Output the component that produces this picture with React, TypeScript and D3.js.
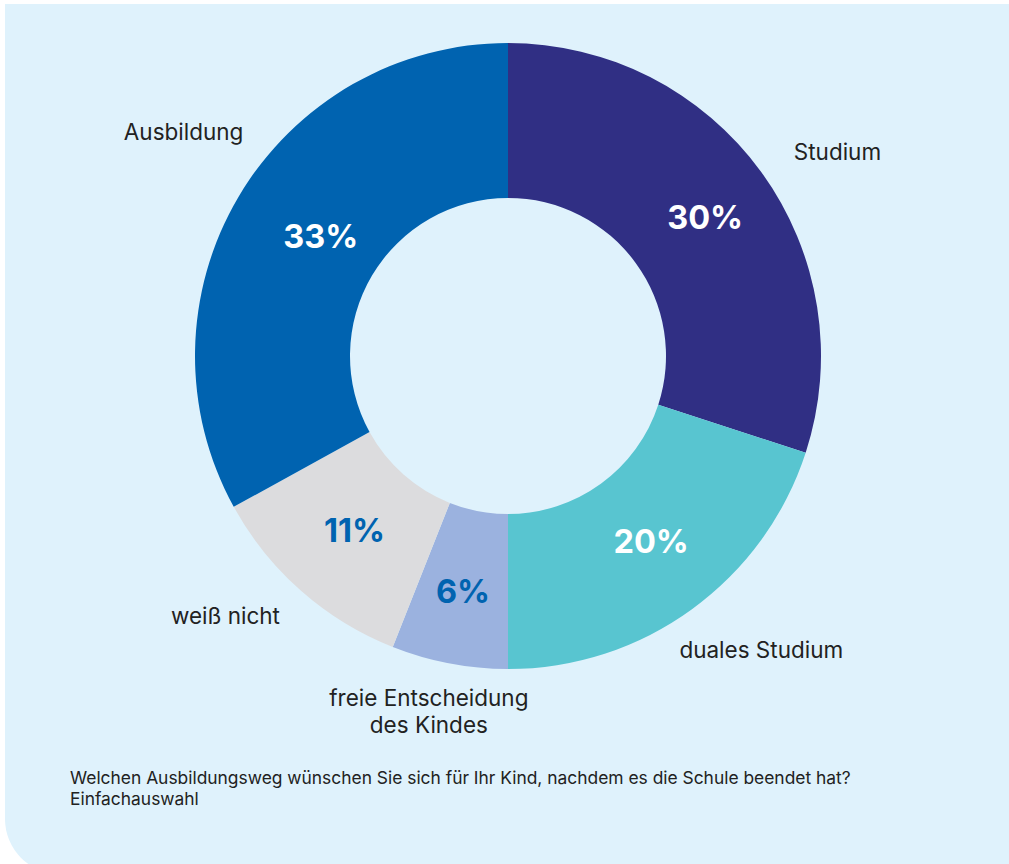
import * as d3 from "d3"

// slices, clockwise from 12 o'clock
const categories = ["Studium", "duales Studium", "freie Entscheidung\ndes Kindes", "weiß nicht", "Ausbildung"]
const values = [30, 20, 6, 11, 33]
const valueLabels = ["30%", "20%", "6%", "11%", "33%"]
const colors = ["#302f84", "#58c5d0", "#9bb2df", "#dcdcde", "#0063b0"]
const valueColors = ["#ffffff", "#ffffff", "#0063b0", "#0063b0", "#ffffff"]
// small hand nudges (px) for labels that are not on the centroid
const valueNudge = [[7, 0], [5, -5], [-1, 5], [2, -2], [15, 0]]
const nameNudge = [[18, 21], [27, -18], [-7, -24], [-28, -30], [7, -29]]

const question = "Welchen Ausbildungsweg wünschen Sie sich für Ihr Kind, nachdem es die Schule beendet hat?"
const subtitle = "Einfachauswahl"

const W = 1009
const H = 864
const CX = 508
const CY = 356
const R_OUT = 313
const R_IN = 158
const FONT = "Inter, 'Noto Sans', sans-serif"

const App = () => {
  const pie = d3.pie<number>().sort(null).value((d) => d)
  const arcs = pie(values)
  const arc = d3.arc<d3.PieArcDatum<number>>().innerRadius(R_IN).outerRadius(R_OUT)
  const valueArc = d3.arc<d3.PieArcDatum<number>>().innerRadius(235).outerRadius(235)
  const nameArc = d3.arc<d3.PieArcDatum<number>>().innerRadius(385).outerRadius(385)

  // panel with only the bottom-left corner rounded
  const r = 55
  const panel = `M5,4 H${W} V${H + 10} H${5 + r} A${r},${r} 0 0 1 5,${H + 10 - r} Z`

  return (
    <div style={{ position: "absolute", left: 0, top: 0 }}>
      <svg width={W} height={H} style={{ display: "block", background: "#ffffff" }}>
        <path d={panel} fill="#dff2fc" />
        <g transform={`translate(${CX},${CY})`}>
          {arcs.map((a, i) => (
            <path key={i} d={arc(a) ?? ""} fill={colors[i]} />
          ))}
          {arcs.map((a, i) => {
            const [x, y] = valueArc.centroid(a)
            return (
              <text
                key={"v" + i}
                x={x + valueNudge[i][0]}
                y={y + valueNudge[i][1]}
                textAnchor="middle"
                dominantBaseline="central"
                fontFamily={FONT}
                fontWeight={700}
                fontSize={32.5}
                fill={valueColors[i]}
              >
                {valueLabels[i]}
              </text>
            )
          })}
          {arcs.map((a, i) => {
            const [x, y] = nameArc.centroid(a)
            const lines = categories[i].split("\n")
            return (
              <text
                key={"n" + i}
                x={x + nameNudge[i][0]}
                y={y + nameNudge[i][1] - ((lines.length - 1) * 27) / 2}
                textAnchor="middle"
                dominantBaseline="central"
                fontFamily={FONT}
                fontSize={22.5}
                fill="#222222"
              >
                {lines.map((l, j) => (
                  <tspan key={j} x={x + nameNudge[i][0]} dy={j === 0 ? 0 : 27}>
                    {l}
                  </tspan>
                ))}
              </text>
            )
          })}
        </g>
        <text x={70} y={784} fontFamily={FONT} fontSize={17.4} fill="#222222">
          {question}
        </text>
        <text x={70} y={805} fontFamily={FONT} fontSize={17.4} fill="#222222">
          {subtitle}
        </text>
      </svg>
    </div>
  )
}

export default App
